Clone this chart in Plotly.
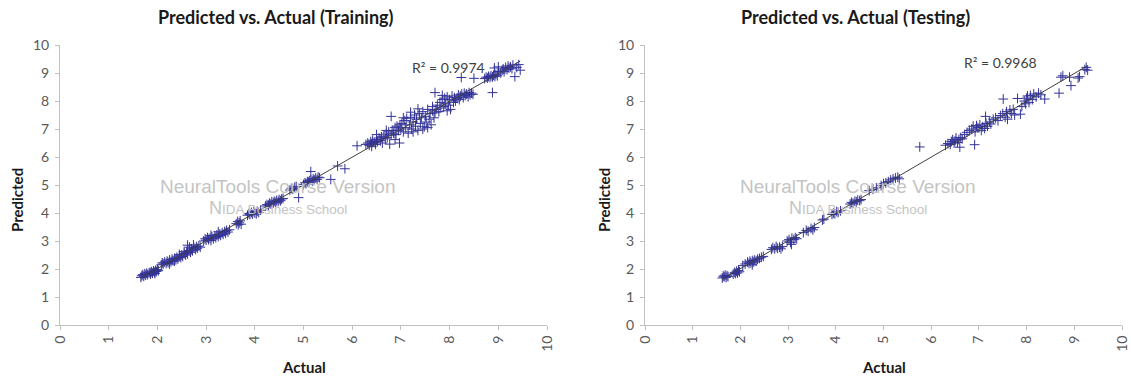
import numpy as np
import plotly.graph_objects as go

# ---------------- data ----------------
train_actual = [
    1.66, 1.68, 1.70, 1.72, 1.74, 1.76, 1.78, 1.80, 1.83, 1.86, 1.88, 1.90, 1.92, 1.94, 1.96, 1.98, 2.00, 2.02, 1.85, 1.95,
    2.08, 2.10, 2.12, 2.15, 2.18, 2.20, 2.22, 2.25, 2.28, 2.30, 2.32, 2.35, 2.38, 2.40, 2.42, 2.45, 2.48, 2.50, 2.52, 2.55,
    2.58, 2.60, 2.62, 2.65, 2.68, 2.70, 2.72, 2.75, 2.78, 2.80, 2.82, 2.85, 2.88, 2.62, 2.66, 2.74, 2.55, 2.45, 2.35, 2.25,
    2.95, 2.98, 3.00, 3.03, 3.05, 3.08, 3.10, 3.12, 3.15, 3.18, 3.20, 3.22, 3.25, 3.28, 3.30, 3.33, 3.35, 3.38, 3.40, 3.42,
    3.45, 3.48, 3.10, 3.25,
    3.62, 3.65, 3.68, 3.70, 3.72, 3.66,
    3.85, 3.88, 3.90, 3.93, 3.95, 3.98, 4.00, 4.03, 4.05, 4.08, 4.12,
    4.22, 4.25, 4.28, 4.30, 4.33, 4.35, 4.38, 4.40, 4.43, 4.45, 4.48, 4.50, 4.53, 4.55, 4.58,
    4.72, 4.75, 4.78, 4.82, 4.85, 4.90, 5.00, 5.03, 5.05, 5.08, 5.10, 5.12, 5.15, 5.15, 5.18, 5.20, 5.22, 5.25, 5.28, 5.30,
    5.33, 5.56, 5.70, 5.85,
    6.10, 6.28, 6.32, 6.35, 6.38, 6.40, 6.42, 6.45, 6.48, 6.50, 6.52, 6.55, 6.58, 6.60, 6.40, 6.50, 6.62,
    6.65, 6.68, 6.70, 6.72, 6.75, 6.77, 6.80, 6.80, 6.82, 6.85, 6.88, 6.90, 6.92, 6.95, 6.97, 6.98, 6.70, 6.88,
    7.00, 7.02, 7.05, 7.08, 7.10, 7.12, 7.15, 7.18, 7.20, 7.22, 7.25, 7.28, 7.30, 7.32, 7.35, 7.38, 7.40, 7.42, 7.45, 7.48,
    7.50, 7.52, 7.55, 7.58, 7.60, 7.62, 7.65, 7.68, 7.70, 7.20, 7.35, 7.45, 7.05, 7.25, 7.55, 7.65,
    7.72, 7.70, 7.75, 7.78, 7.80, 7.82, 7.85, 7.88, 7.90, 7.92, 7.95, 7.98, 8.00, 8.02, 8.05, 8.08, 8.10, 8.12, 7.85, 7.95,
    8.15, 8.18, 8.20, 8.22, 8.25, 8.28, 8.30, 8.32, 8.35, 8.38, 8.40, 8.42, 8.45, 8.48, 8.24, 8.50,
    8.88, 8.72, 8.75, 8.78, 8.80, 8.83, 8.85, 8.88, 8.90, 8.93, 8.95, 8.98, 9.00, 9.05, 9.08, 9.10, 9.12, 9.15, 9.18, 9.20,
    9.22, 9.25, 9.30, 9.34, 9.38, 9.42, 9.45, 9.00, 9.28, 8.92,
]
train_predicted = [
    1.70, 1.76, 1.80, 1.74, 1.83, 1.78, 1.85, 1.80, 1.86, 1.82, 1.90, 1.85, 1.93, 1.88, 1.95, 1.91, 1.98, 1.94, 1.88, 1.84,
    2.15, 2.22, 2.18, 2.25, 2.20, 2.28, 2.23, 2.32, 2.26, 2.35, 2.30, 2.38, 2.33, 2.42, 2.36, 2.46, 2.41, 2.50, 2.45, 2.55,
    2.50, 2.60, 2.54, 2.66, 2.60, 2.72, 2.65, 2.76, 2.70, 2.80, 2.74, 2.82, 2.78, 2.85, 2.78, 2.86, 2.62, 2.52, 2.28, 2.18,
    3.00, 3.08, 3.03, 3.12, 3.05, 3.10, 3.02, 3.15, 3.08, 3.18, 3.12, 3.22, 3.16, 3.25, 3.20, 3.30, 3.24, 3.34, 3.28, 3.38,
    3.32, 3.40, 3.20, 3.33,
    3.62, 3.70, 3.65, 3.72, 3.60, 3.58,
    3.92, 3.98, 3.95, 4.02, 3.96, 4.05, 4.00, 3.97, 4.06, 4.02, 4.10,
    4.25, 4.30, 4.28, 4.35, 4.32, 4.40, 4.36, 4.42, 4.38, 4.45, 4.41, 4.48, 4.44, 4.50, 4.52,
    4.82, 4.88, 4.85, 4.92, 4.95, 4.55, 5.02, 5.08, 5.05, 5.12, 5.10, 5.15, 5.48, 5.18, 5.14, 5.22, 5.18, 5.25, 5.20, 5.28,
    5.26, 5.20, 5.68, 5.58,
    6.40, 6.45, 6.50, 6.42, 6.55, 6.48, 6.60, 6.52, 6.45, 6.62, 6.55, 6.68, 6.58, 6.72, 6.38, 6.80, 6.50,
    6.75, 6.65, 6.82, 6.70, 6.90, 6.46, 7.45, 6.78, 6.95, 6.85, 7.05, 6.80, 7.10, 6.95, 6.50, 7.15, 6.95, 6.62,
    7.00, 7.20, 6.90, 7.30, 7.05, 7.38, 6.85, 7.15, 7.42, 7.00, 7.25, 7.50, 7.10, 7.35, 6.95, 7.55, 7.20, 7.40, 7.62, 7.08,
    7.45, 7.25, 7.70, 7.35, 7.55, 7.15, 7.65, 7.40, 7.58, 7.60, 7.72, 7.00, 7.40, 6.90, 7.05, 7.80,
    7.70, 8.30, 7.85, 7.62, 7.95, 7.75, 8.05, 7.80, 8.10, 7.90, 8.15, 7.85, 8.05, 7.70, 8.18, 7.95, 8.12, 8.00, 8.20, 7.65,
    8.10, 8.22, 8.05, 8.18, 8.25, 8.12, 8.28, 8.20, 8.25, 8.15, 8.30, 8.22, 8.28, 8.24, 8.84, 8.81,
    8.30, 8.80, 8.85, 8.82, 8.88, 8.84, 8.90, 8.86, 8.92, 8.88, 8.95, 8.90, 9.05, 9.00, 9.10, 9.15, 9.05, 9.20, 9.12, 9.25,
    9.18, 9.22, 9.28, 8.87, 9.20, 9.30, 9.10, 9.22, 9.15, 9.18,
]

test_actual = [
    1.62, 1.64, 1.66, 1.68, 1.70, 1.72, 1.74, 1.85, 1.88, 1.90, 1.92, 1.94, 1.96, 1.98,
    2.05, 2.10, 2.15, 2.18, 2.20, 2.22, 2.25, 2.28, 2.30, 2.33, 2.36, 2.40, 2.44, 2.48, 2.25,
    2.65, 2.68, 2.72, 2.75, 2.78, 2.82, 2.85, 2.88,
    2.98, 3.02, 3.05, 3.07, 3.08, 3.12, 3.15, 3.18,
    3.32, 3.38, 3.42, 3.48, 3.52, 3.55,
    3.72, 3.75, 3.92, 3.95, 3.98, 4.02, 4.05, 4.10,
    4.30, 4.33, 4.36, 4.40, 4.43, 4.46, 4.50, 4.53,
    4.70, 4.78, 4.85, 4.95, 5.00, 5.05, 5.10, 5.15, 5.20, 5.25, 5.30, 5.33,
    5.76, 6.30, 6.35, 6.40, 6.42, 6.45, 6.48, 6.50, 6.52, 6.55, 6.58, 6.60, 6.62, 6.65,
    6.70, 6.75, 6.80, 6.85, 6.88, 6.91, 6.92, 6.95, 6.98, 7.02, 7.05, 7.08, 7.12, 7.14, 7.15, 7.18, 7.22, 7.25, 7.30,
    7.35, 7.40, 7.45, 7.51, 7.50, 7.55, 7.58, 7.60, 7.65, 7.68, 7.72, 7.75, 7.81, 7.87, 7.90, 7.95, 7.98, 8.00, 8.02, 8.05,
    8.08, 8.12, 8.15, 8.20, 8.25, 8.30, 8.38,
    8.68, 8.76, 8.72, 8.93, 8.90, 9.11, 9.08, 9.25, 9.22, 9.28,
]
test_predicted = [
    1.68, 1.75, 1.72, 1.78, 1.70, 1.76, 1.73, 1.82, 1.88, 1.84, 1.92, 1.86, 1.95, 1.90,
    2.12, 2.18, 2.25, 2.20, 2.28, 2.22, 2.30, 2.25, 2.32, 2.28, 2.35, 2.38, 2.42, 2.45, 2.15,
    2.70, 2.76, 2.72, 2.80, 2.74, 2.78, 2.72, 2.80,
    3.00, 3.05, 2.95, 2.88, 3.10, 3.05, 3.12, 3.08,
    3.30, 3.38, 3.35, 3.45, 3.40, 3.48,
    3.75, 3.78, 3.95, 4.00, 3.97, 4.05, 4.02, 4.08,
    4.32, 4.38, 4.35, 4.42, 4.40, 4.46, 4.44, 4.48,
    4.80, 4.85, 4.90, 4.98, 5.05, 5.08, 5.12, 5.18, 5.22, 5.25, 5.28, 5.22,
    6.36, 6.42, 6.48, 6.45, 6.55, 6.62, 6.50, 6.58, 6.68, 6.52, 6.62, 6.35, 6.70, 6.65,
    6.80, 6.88, 6.95, 7.00, 7.10, 6.44, 6.90, 7.12, 7.05, 7.15, 6.95, 7.08, 7.02, 7.45, 7.20, 7.10, 7.25, 7.18, 7.35,
    7.40, 7.30, 7.48, 8.07, 7.55, 7.42, 7.62, 7.35, 7.68, 7.55, 7.70, 7.50, 8.09, 7.53, 7.80, 8.00, 7.90, 8.10, 8.18, 7.95,
    8.20, 8.05, 8.25, 8.15, 8.28, 8.22, 8.07,
    8.28, 8.90, 8.85, 8.55, 8.85, 8.87, 8.82, 9.20, 9.12, 9.10,
]

r2_labels = ["R\u00b2 = 0.9974", "R\u00b2 = 0.9968"]
titles = ["Predicted vs. Actual (Training)", "Predicted vs. Actual (Testing)"]
tick_vals = list(range(0, 11))

# ---------------- figure ----------------
W, H = 1131, 380
MARK = "#333399"
fig = go.Figure()

def px_x(p):
    return p / W

def px_y(p):
    return 1 - p / H

datasets = [(train_actual, train_predicted, "x", "y"), (test_actual, test_predicted, "x2", "y2")]
for xs, ys, xa, ya in datasets:
    xs_a = np.array(xs)
    ys_a = np.array(ys)
    slope, intercept = np.polyfit(xs_a, ys_a, 1)
    lx = np.array([xs_a.min(), xs_a.max()])
    fig.add_trace(go.Scatter(
        x=xs, y=ys, mode="markers", xaxis=xa, yaxis=ya, showlegend=False,
        marker=dict(symbol="cross-thin-open", size=7, color=MARK,
                    line=dict(color=MARK, width=1)),
    ))
    fig.add_trace(go.Scatter(
        x=lx, y=slope * lx + intercept, mode="lines", xaxis=xa, yaxis=ya,
        showlegend=False, line=dict(color="#404040", width=1),
    ))

tickfont = dict(family="Lato, sans-serif", size=14, color="#595959")
axis_common = dict(range=[0, 10], tickvals=tick_vals, showgrid=False, zeroline=False,
                   showline=True, linecolor="#c0c0c0", linewidth=1, ticks="outside",
                   ticklen=4, tickcolor="#c0c0c0", tickfont=tickfont, fixedrange=True,
                   automargin=False)

ydom = [1 - 325 / H, 1 - 45 / H]
fig.update_layout(
    width=W, height=H, margin=dict(l=0, r=0, t=0, b=0, pad=0), autosize=False,
    paper_bgcolor="white", plot_bgcolor="white",
    xaxis=dict(domain=[px_x(60), px_x(547)], anchor="y", tickangle=-90, **axis_common),
    yaxis=dict(domain=ydom, anchor="x", ticklabelstandoff=3, **axis_common),
    xaxis2=dict(domain=[px_x(645), px_x(1122)], anchor="y2", tickangle=-90, **axis_common),
    yaxis2=dict(domain=ydom, anchor="x2", ticklabelstandoff=3, **axis_common),
)

ann = []
title_font = dict(family="Lato, sans-serif", size=18, color="#1a1a1a")
label_font = dict(family="Lato, sans-serif", size=15, color="#1a1a1a")
for i, (tcx, acx, pcx, r2x, r2y, wmx) in enumerate([
        (276, 304, 17, 448, 67, 278),
        (855, 884, 604, 1000, 62, 858)]):
    ann.append(dict(text="<b>%s</b>" % titles[i], x=px_x(tcx), y=px_y(17), xref="paper", yref="paper",
                    showarrow=False, font=title_font, xanchor="center", yanchor="middle"))
    ann.append(dict(text="<b>Actual</b>", x=px_x(acx), y=px_y(367), xref="paper", yref="paper",
                    showarrow=False, font=label_font, xanchor="center", yanchor="middle"))
    ann.append(dict(text="<b>Predicted</b>", x=px_x(pcx), y=px_y(200), xref="paper", yref="paper",
                    showarrow=False, font=label_font, textangle=-90, xanchor="center", yanchor="middle"))
    ann.append(dict(text=r2_labels[i], x=px_x(r2x), y=px_y(r2y), xref="paper", yref="paper",
                    showarrow=False, font=dict(family="Lato, sans-serif", size=14, color="#404040"),
                    xanchor="center", yanchor="middle"))
    ann.append(dict(text="NeuralTools Course Version", x=px_x(wmx), y=px_y(186), xref="paper", yref="paper",
                    showarrow=False, font=dict(family="Liberation Sans, Arial", size=19, color="#c4c4c4"),
                    xanchor="center", yanchor="middle"))
    ann.append(dict(text="N<span style='font-size:13.5px'>IDA Business School</span>", x=px_x(wmx), y=px_y(208),
                    xref="paper", yref="paper", showarrow=False,
                    font=dict(family="Liberation Sans, Arial", size=18, color="#c4c4c4"),
                    xanchor="center", yanchor="middle"))
fig.update_layout(annotations=ann)

fig.write_html("out.html", config={"responsive": False, "displayModeBar": False},
               post_script="document.body.style.margin='0';document.body.style.padding='0';"
                           "document.body.style.overflow='hidden';")
